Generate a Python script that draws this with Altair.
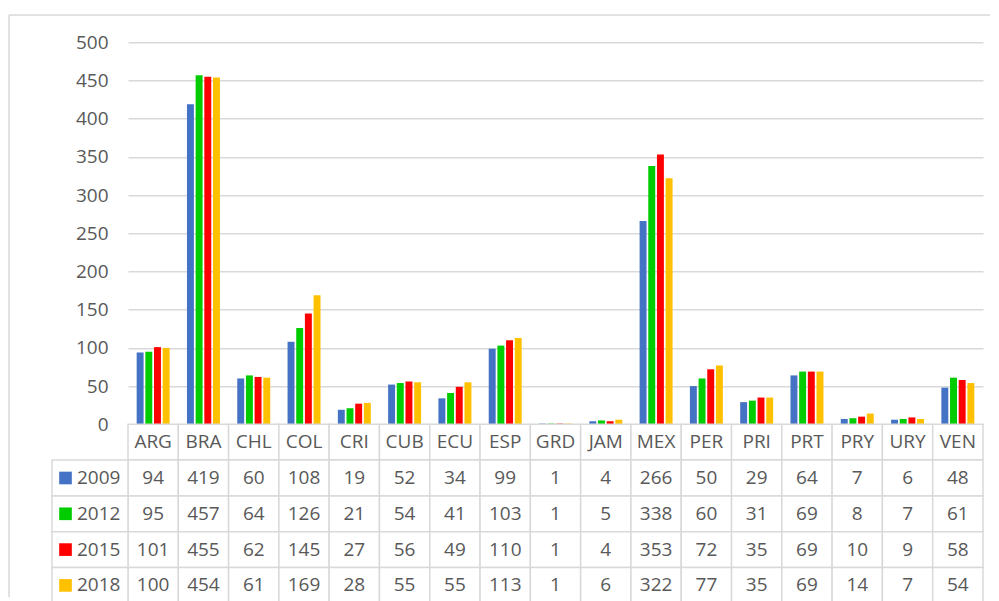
import altair as alt
import pandas as pd

countries = ["ARG", "BRA", "CHL", "COL", "CRI", "CUB", "ECU", "ESP", "GRD",
             "JAM", "MEX", "PER", "PRI", "PRT", "PRY", "URY", "VEN"]
years = ["2009", "2012", "2015", "2018"]
v2009 = [94, 419, 60, 108, 19, 52, 34, 99, 1, 4, 266, 50, 29, 64, 7, 6, 48]
v2012 = [95, 457, 64, 126, 21, 54, 41, 103, 1, 5, 338, 60, 31, 69, 8, 7, 61]
v2015 = [101, 455, 62, 145, 27, 56, 49, 110, 1, 4, 353, 72, 35, 69, 10, 9, 58]
v2018 = [100, 454, 61, 169, 28, 55, 55, 113, 1, 6, 322, 77, 35, 69, 14, 7, 54]
colors = ["#4472C4", "#00CC00", "#FF0000", "#FFC000"]
y_ticks = [0, 50, 100, 150, 200, 250, 300, 350, 400, 450, 500]

series = {"2009": v2009, "2012": v2012, "2015": v2015, "2018": v2018}
rows = []
for y in years:
    for c, v in zip(countries, series[y]):
        rows.append({"country": c, "year": y, "value": v})
bars_df = pd.DataFrame(rows)

table_rows = ["cat"] + years
cells = []
for c in countries:
    cells.append({"country": c, "row": "cat", "label": c})
for y in years:
    for c, v in zip(countries, series[y]):
        cells.append({"country": c, "row": y, "label": str(v)})
table_df = pd.DataFrame(cells)
legend_df = pd.DataFrame({"row": years, "year": years})
one = pd.DataFrame({"a": [0]})

FONT = "Open Sans"
GRAY = "#595959"
LINE = "#D9D9D9"
color_scale = alt.Scale(domain=years, range=colors)

bars = alt.Chart(bars_df).mark_bar().encode(
    x=alt.X("country:N", sort=countries, axis=None,
            scale=alt.Scale(domain=countries, paddingInner=0.31, paddingOuter=0.155)),
    xOffset=alt.XOffset("year:N", sort=years,
                        scale=alt.Scale(domain=years, paddingInner=0.2, paddingOuter=0.1)),
    y=alt.Y("value:Q", scale=alt.Scale(domain=[0, 500], nice=False),
            axis=alt.Axis(values=y_ticks, title=None, domain=False, ticks=False,
                          grid=True, gridColor=LINE, gridWidth=1.5,
                          labelFont=FONT, labelFontSize=19, labelColor=GRAY,
                          labelPadding=20)),
    color=alt.Color("year:N", scale=color_scale, legend=None),
)

border_left = alt.Chart(one).mark_rule(color=LINE, strokeWidth=1.5).encode(
    x=alt.value(-119), y=alt.value(-27.3), y2=alt.value(555))
border_top = alt.Chart(one).mark_rule(color=LINE, strokeWidth=1.5).encode(
    x=alt.value(-119), x2=alt.value(862), y=alt.value(-27.3))

top = alt.layer(border_left, border_top, bars).properties(width=855, height=382)

xs = alt.X("country:N", sort=countries, axis=None,
           scale=alt.Scale(domain=countries, paddingInner=0, paddingOuter=0))
ys = alt.Y("row:N", sort=table_rows, axis=None,
           scale=alt.Scale(domain=table_rows, paddingInner=0, paddingOuter=0))

cell_rects = alt.Chart(table_df).mark_rect(fill="white", stroke=LINE, strokeWidth=1.5).encode(
    x=xs, y=ys)
cell_text = alt.Chart(table_df).mark_text(font=FONT, fontSize=19, color=GRAY,
                                          baseline="middle").encode(
    x=xs, y=ys, text="label:N")
leg_rects = alt.Chart(legend_df).mark_rect(fill="white", stroke=LINE, strokeWidth=1.5).encode(
    x=alt.value(-76), x2=alt.value(0), y=ys)
leg_sq = alt.Chart(legend_df).mark_square(size=160, opacity=1).encode(
    x=alt.value(-62.5), y=ys,
    color=alt.Color("year:N", scale=color_scale, legend=None))
leg_text = alt.Chart(legend_df).mark_text(font=FONT, fontSize=19, color=GRAY,
                                          align="left", baseline="middle").encode(
    x=alt.value(-51), y=ys, text="year:N")

table = alt.layer(cell_rects, leg_rects, cell_text, leg_sq, leg_text).properties(
    width=855, height=179)

chart = alt.vconcat(top, table, spacing=0, bounds="flush").resolve_scale(
    x="independent", y="independent", color="shared"
).properties(
    padding={"left": 0, "top": 5.3, "right": 0, "bottom": 0},
    background="white",
).configure_view(stroke=None)

chart.save("out.html", embed_options={"renderer": "svg", "actions": False})
